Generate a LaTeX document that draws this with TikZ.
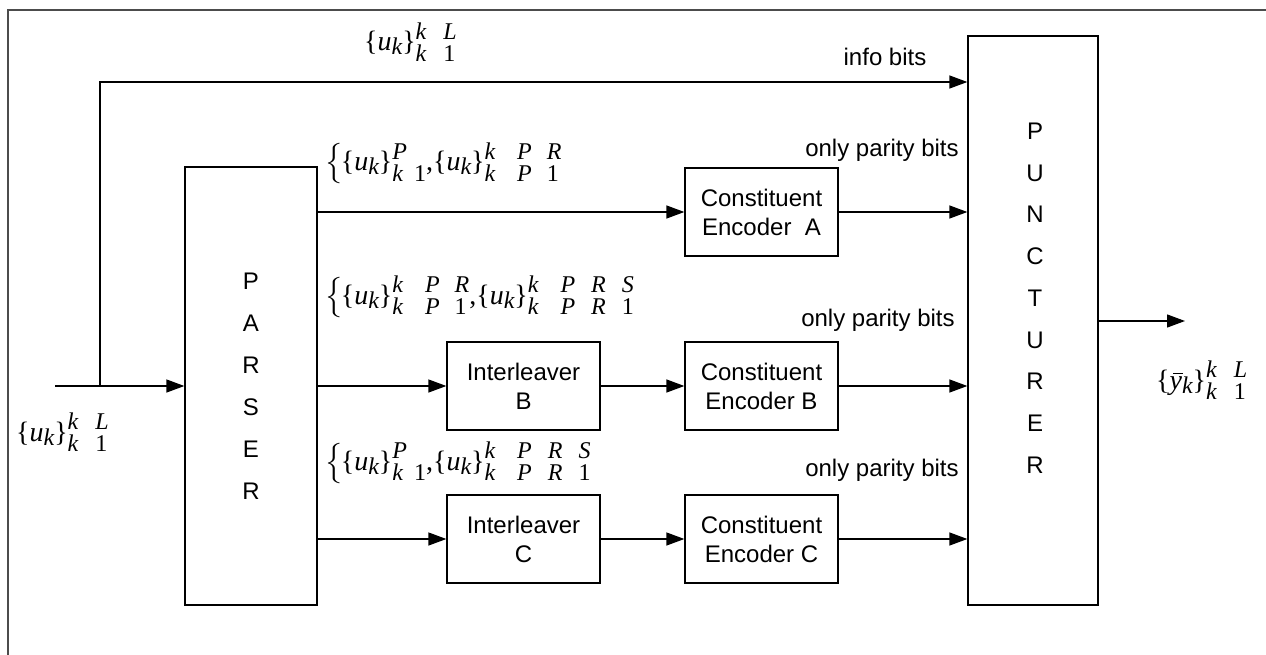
\documentclass[tikz,border=0pt]{standalone}
\usepackage{fontspec}
\usepackage{unicode-math}
\setmainfont{Liberation Sans}
\setmathfont{Latin Modern Math}
\newfontfamily\serfam{Liberation Serif}
\usetikzlibrary{arrows.meta}
\newcommand{\scr}[1]{{\fontsize{24}{24}\selectfont\itshape #1}}
\newcommand{\uk}{\{\textit{u}\raisebox{-4pt}{\scr{k}}\}}
\newcommand{\ybk}{\{\makebox[0pt][l]{\hspace{3.5pt}\rule[15pt]{10pt}{1.2pt}}\textit{y}\raisebox{-4pt}{\scr{k}}\}}
\newcommand{\ssc}[3]{{\fontsize{24}{17}\selectfont\itshape\renewcommand{\arraystretch}{1}\begin{tabular}[c]{@{}#1@{}}#2\\#3\end{tabular}}}
\newcommand{\one}{\textup{1}}
\newcommand{\bigbr}{$\left\{\rule[-14.5pt]{0pt}{42pt}\right.$\kern-3pt}
\begin{document}
\begin{tikzpicture}[x=1pt,y=-1pt,
  blk/.style={draw, line width=1.3pt, inner sep=0pt, align=center, font=\fontsize{24}{29}\selectfont},
  arr/.style={line width=1.3pt, -{Triangle[length=18pt,width=13pt]}},
  lbl/.style={font=\fontsize{24}{26}\selectfont, inner sep=0pt},
  mlab/.style={font=\serfam\fontsize{28}{30}\selectfont, inner sep=0pt, anchor=west}]
\useasboundingbox (0,0) rectangle (1266,655);
\draw[line width=2pt, color=black!70] (8,662) -- (8,10) -- (1272,10);

\node[blk, minimum width=132pt, minimum height=438pt, font=\fontsize{24}{42}\selectfont] (parser) at (251,386) {P\\A\\R\\S\\E\\R};
\node[blk, minimum width=130pt, minimum height=569pt] (punct) at (1033,320.5) {};
\node[lbl, align=center, font=\fontsize{24}{41.75}\selectfont] (ptext) at (1035,298) {P\\U\\N\\C\\T\\U\\R\\E\\R};

\node[blk, minimum width=153pt, minimum height=88pt] (encA) at (761.5,212) {Constituent\\Encoder\ \ A};
\node[blk, minimum width=153pt, minimum height=88pt] (encB) at (761.5,386) {Constituent\\Encoder\ B};
\node[blk, minimum width=153pt, minimum height=88pt] (encC) at (761.5,539) {Constituent\\Encoder C};
\node[blk, minimum width=153pt, minimum height=88pt] (intB) at (523.5,386) {Interleaver\\B};
\node[blk, minimum width=153pt, minimum height=88pt] (intC) at (523.5,539) {Interleaver\\C};

\coordinate (in) at (55,386);
\coordinate (br) at (100,386);
\coordinate (top) at (100,82);
\coordinate (out) at (1185,321);

\draw[arr] (in) -- (in -| parser.west);
\draw[arr] (br) -- (top) -- (top -| punct.west);
\draw[arr] (parser.east |- encA) -- (encA.west);
\draw[arr] (encA.east) -- (encA.east -| punct.west);
\draw[arr] (parser.east |- intB) -- (intB.west);
\draw[arr] (intB.east) -- (encB.west);
\draw[arr] (encB.east) -- (encB.east -| punct.west);
\draw[arr] (parser.east |- intC) -- (intC.west);
\draw[arr] (intC.east) -- (encC.west);
\draw[arr] (encC.east) -- (encC.east -| punct.west);
\draw[arr] (punct.east |- out) -- (out);

\node[lbl] (info) at (885,57) {info bits};
\node[lbl] (parA) at (882,150) {only parity bits};
\node[lbl] (parB) at (878,320) {only parity bits};
\node[lbl] (parC) at (882,470) {only parity bits};

\node[mlab] (utop) at (364,45) {\uk\ssc{l@{\hspace{17pt}}l}{k&L}{k&\one}};
\node[mlab] (uin) at (16,435) {\uk\ssc{l@{\hspace{17pt}}l}{k&L}{k&\one}};
\node[mlab] (yout) at (1156,383) {\ybk\ssc{l@{\hspace{17pt}}l}{k&L}{k&\one}};

\node[mlab] (sA) at (325,165) {\bigbr\uk\ssc{l@{\hspace{7pt}}l}{P&}{k&\one},\uk\ssc{l@{\hspace{22pt}}l@{\hspace{15pt}}l}{k&P&R}{k&P&\one}};
\node[mlab] (sB) at (325,298) {\bigbr\uk\ssc{l@{\hspace{22pt}}l@{\hspace{15pt}}l}{k&P&R}{k&P&\one},\uk\ssc{l@{\hspace{22pt}}l@{\hspace{16pt}}l@{\hspace{16pt}}l}{k&P&R&S}{k&P&R&\one}};
\node[mlab] (sC) at (325,464) {\bigbr\uk\ssc{l@{\hspace{7pt}}l}{P&}{k&\one},\uk\ssc{l@{\hspace{22pt}}l@{\hspace{16pt}}l@{\hspace{16pt}}l}{k&P&R&S}{k&P&R&\one}};
\end{tikzpicture}
\end{document}
